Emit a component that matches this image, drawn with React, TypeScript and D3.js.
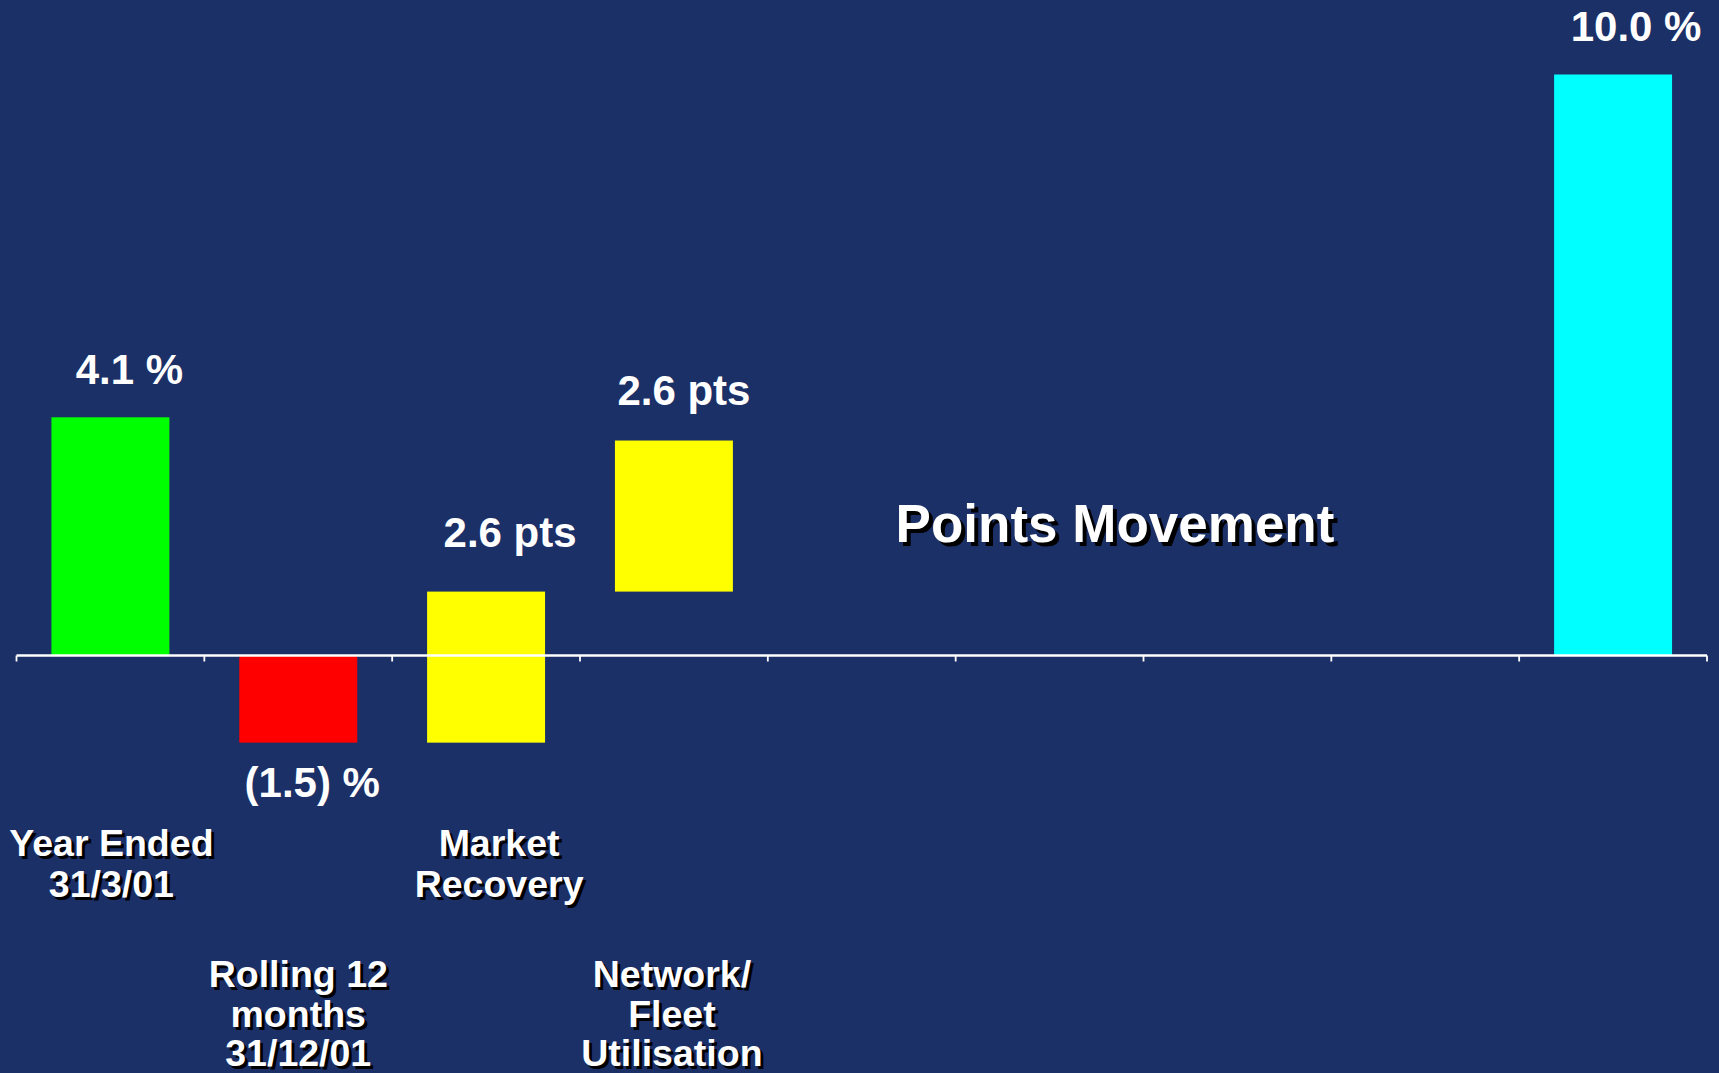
import React from "react";
import * as d3 from "d3";

// ---- data ----
const categories: string[] = [
  "Year Ended|31/3/01",
  "Rolling 12|months|31/12/01",
  "Market|Recovery",
  "Network/|Fleet|Utilisation",
  "c5",
  "c6",
  "c7",
  "c8",
  "c9",
];
// kind: "total" bars start at zero, "delta" bars float on the running level
const barKinds: (string | null)[] = ["total", "total", "delta", "delta", null, null, null, null, "total"];
const barValues: (number | null)[] = [4.1, -1.5, 2.6, 2.6, null, null, null, null, 10.0];
const barColors: string[] = ["#00FF00", "#FF0000", "#FFFF00", "#FFFF00", "", "", "", "", "#00FFFF"];
const overlayTitle = "Points Movement";

const W = 1719;
const H = 1073;
const BG = "#1C3068";
const FONT = "'Liberation Sans', Arial, Helvetica, sans-serif";

function fmt(kind: string, v: number) {
  if (kind === "delta") return `${v.toFixed(1)} pts`;
  return v < 0 ? `(${Math.abs(v).toFixed(1)}) %` : `${v.toFixed(1)} %`;
}

// layout tweaks for label placement (per category index)
const valueLabelDx: Record<number, number> = { 0: 19, 1: 14, 2: 24, 3: 10, 8: 23 };
const valueLabelGap: Record<number, number> = { 0: 33, 1: 54, 2: 45, 3: 36, 8: 34 };
const catLabelDx: Record<number, number> = { 0: 1, 1: 0, 2: 13, 3: -2 };

function ShadowText(props: {
  x: number;
  y: number;
  size: number;
  off: number;
  children: string;
}) {
  const { x, y, size, off, children } = props;
  return (
    <g fontFamily={FONT} fontWeight="bold" fontSize={size} textAnchor="middle">
      <text x={x + off} y={y + off} fill="#000">
        {children}
      </text>
      <text x={x} y={y} fill="#fff">
        {children}
      </text>
    </g>
  );
}

export default function App() {
  const x = d3
    .scaleBand<string>()
    .domain(categories)
    .range([16.5, 1707])
    .paddingInner(0.372)
    .paddingOuter(0.186);
  const y = d3.scaleLinear().domain([0, 10]).range([655.5, 74.5]);
  const step = x.step();
  const x0 = 16.5;

  // compute bar extents
  let level = 0;
  const bars = categories.map((c, i) => {
    const kind = barKinds[i];
    const v = barValues[i];
    if (kind == null || v == null) return null;
    let from: number, to: number;
    if (kind === "total") {
      from = 0;
      to = v;
    } else {
      from = level;
      to = level + v;
    }
    level = to;
    return { c, i, kind, v, from, to };
  });

  const ticks = d3.range(categories.length + 1).map((k) => x0 + k * step);

  const topRow = [856, 897];
  const lowRow = [987, 1027, 1066];

  return (
    <svg
      width={W}
      height={H}
      style={{ position: "absolute", left: 0, top: 0, display: "block" }}
    >
      <rect x={0} y={0} width={W} height={H} fill={BG} />
      {bars.map((b) => {
        if (!b) return null;
        const bx = x(b.c)!;
        const yTop = y(Math.max(b.from, b.to));
        const yBot = y(Math.min(b.from, b.to));
        return (
          <rect
            key={b.c}
            x={bx}
            y={yTop}
            width={x.bandwidth()}
            height={yBot - yTop}
            fill={barColors[b.i]}
          />
        );
      })}
      {/* axis */}
      <line x1={x0} x2={1707} y1={y(0)} y2={y(0)} stroke="#fff" strokeWidth={2.4} />
      {ticks.map((t, k) => (
        <line key={k} x1={t} x2={t} y1={y(0)} y2={y(0) + 6} stroke="#fff" strokeWidth={1.8} />
      ))}
      {/* value labels */}
      {bars.map((b) => {
        if (!b) return null;
        const cx = x(b.c)! + x.bandwidth() / 2 + (valueLabelDx[b.i] ?? 0);
        const gap = valueLabelGap[b.i] ?? 34;
        const above = b.to >= b.from && b.to >= 0 && !(b.kind === "total" && b.v < 0);
        const yy = above ? y(Math.max(b.from, b.to)) - gap : y(Math.min(b.from, b.to)) + gap;
        return (
          <text
            key={"v" + b.c}
            x={cx}
            y={yy}
            fill="#fff"
            fontFamily={FONT}
            fontWeight="bold"
            fontSize={42}
            textAnchor="middle"
          >
            {fmt(b.kind, b.v)}
          </text>
        );
      })}
      {/* category labels */}
      {categories.slice(0, 4).map((c, i) => {
        const lines = c.split("|");
        const rows = i % 2 === 0 ? topRow : lowRow;
        const cx = x(c)! + x.bandwidth() / 2 + (catLabelDx[i] ?? 0);
        return (
          <g key={"c" + c}>
            {lines.map((ln, j) => (
              <ShadowText key={j} x={cx} y={rows[j]} size={37.5} off={3}>
                {ln}
              </ShadowText>
            ))}
          </g>
        );
      })}
      <ShadowText x={1115} y={542} size={53} off={4}>
        {overlayTitle}
      </ShadowText>
    </svg>
  );
}
